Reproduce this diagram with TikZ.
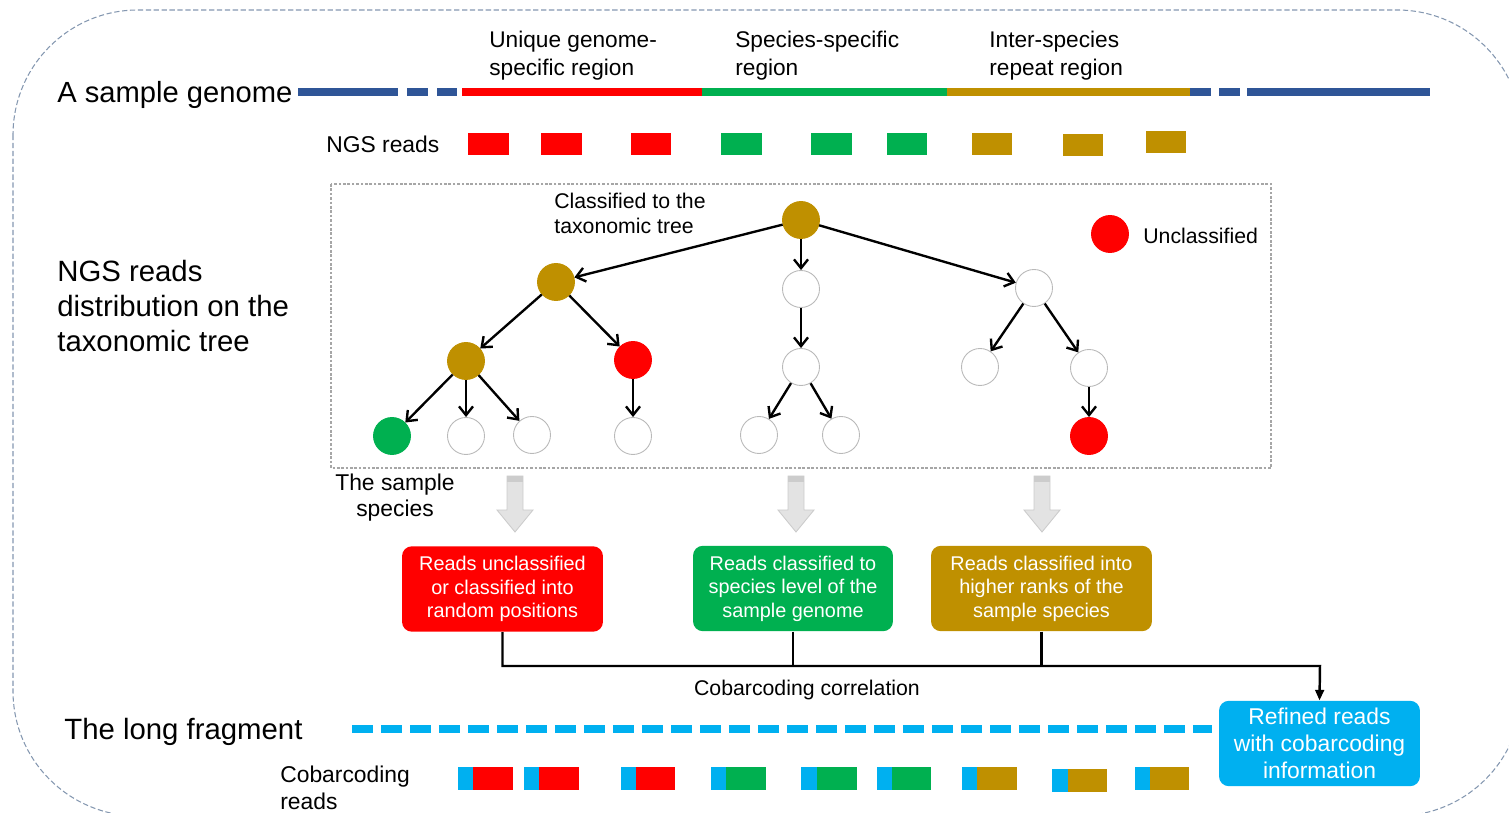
\documentclass[tikz,border=0pt]{standalone}
\usepackage{fontspec}
\setmainfont{Liberation Sans}
\usetikzlibrary{arrows.meta}

\definecolor{genomeblue}{HTML}{2F5597}
\definecolor{readred}{HTML}{FF0000}
\definecolor{readgreen}{HTML}{00B050}
\definecolor{readgold}{HTML}{BF9000}
\definecolor{barblue}{HTML}{00B0F0}
\definecolor{framegray}{HTML}{8497B0}

\begin{document}
\begin{tikzpicture}[x=0.02cm, y=-0.02cm,
  taxon/.style={circle, minimum size=0.74cm, inner sep=0pt, draw=gray!55, line width=0.5pt, fill=white},
  taxgold/.style={taxon, fill=readgold, draw=readgold},
  taxred/.style={taxon, fill=readred, draw=readred},
  taxgreen/.style={taxon, fill=readgreen, draw=readgreen},
  branch/.style={-{Straight Barb[length=5pt,width=8pt]}, line width=1.35pt},
  readbox/.style={rounded corners=0.2cm, text=white, align=center, minimum height=1.71cm, inner sep=0pt, font=\fontsize{11.3pt}{13.4pt}\selectfont},
  genome/.style={line width=4pt},
  bus/.style={line width=1.4pt},
  sortarrow/.style={fill=gray!22, draw=gray!40, line width=0.5pt},
  lbl/.style={inner sep=0pt, text=black}]

\useasboundingbox (0,0) rectangle (1509,813);
\clip (0,0) rectangle (1509,813);

%% frames
\draw[framegray, line width=0.6pt, dash pattern=on 3pt off 1.5pt, rounded corners=2.5cm] (13,10) rectangle (1522,816);
\draw[gray!70, line width=0.6pt, dash pattern=on 1.5pt off 1pt] (331,184) rectangle (1271,468);

%% genome
\node[lbl, anchor=base west, font=\fontsize{16.6pt}{19.9pt}\selectfont] (gen) at (57,103) {A sample genome};
\draw[genome, genomeblue] (298,92) -- (398,92);
\draw[genome, genomeblue] (407,92) -- (428,92);
\draw[genome, genomeblue] (437,92) -- (457,92);
\draw[genome, readred] (462,92) -- (702,92);     %% unique
\draw[genome, readgreen] (702,92) -- (947,92);   %% species
\draw[genome, readgold] (947,92) -- (1190,92);   %% repeat
\draw[genome, genomeblue] (1190,92) -- (1211,92);
\draw[genome, genomeblue] (1219,92) -- (1240,92);
\draw[genome, genomeblue] (1247,92) -- (1430,92);

%% region labels
\node[lbl, anchor=west, align=left, font=\fontsize{12.9pt}{15.9pt}\selectfont] (uniq) at (489,56) {Unique genome-\\specific region};
\node[lbl, anchor=west, align=left, font=\fontsize{12.9pt}{15.9pt}\selectfont] (spec) at (735,56) {Species-specific\\region};
\node[lbl, anchor=west, align=left, font=\fontsize{12.9pt}{15.9pt}\selectfont] (inter) at (989,56) {Inter-species\\repeat region};

%% NGS reads
\node[lbl, anchor=base west, font=\fontsize{13pt}{15.6pt}\selectfont] (ngs) at (326,153) {NGS reads};
\fill[readred] (468,133) rectangle (509,155);
\fill[readred] (541,133) rectangle (582,155);
\fill[readred] (631,133) rectangle (671,155);
\fill[readgreen] (721,133) rectangle (762,155);
\fill[readgreen] (811,133) rectangle (852,155);
\fill[readgreen] (887,133) rectangle (927,155);
\fill[readgold] (972,133) rectangle (1012,155);
\fill[readgold] (1063,134) rectangle (1103,156);
\fill[readgold] (1146,131) rectangle (1186,153);

%% tree labels
\node[lbl, anchor=west, align=left, font=\fontsize{16.7pt}{19.9pt}\selectfont] (distr) at (57,306) {NGS reads\\distribution on the\\taxonomic tree};
\node[lbl, anchor=west, align=left, font=\fontsize{12.1pt}{14.2pt}\selectfont] (clsf) at (554,213) {Classified to the\\taxonomic tree};
\node[taxred] (udot) at (1110,234) {};
\node[lbl, anchor=base west, font=\fontsize{12.1pt}{14.2pt}\selectfont] (ulbl) at (1143,244) {Unclassified};

%% taxa
\node[taxgold] (root) at (801,220) {};
\node[taxgold] (g1) at (556,282) {};
\node[taxon] (s1) at (801,289) {};
\node[taxon] (r1) at (1034,288) {};
\node[taxgold] (g2) at (466,361) {};
\node[taxred] (u2) at (633,360) {};
\node[taxon] (s2) at (801,367) {};
\node[taxon] (r2a) at (980,367) {};
\node[taxon] (r2b) at (1089,368) {};
\node[taxgreen] (sp) at (392,436) {};
\node[taxon] (g3b) at (466,436) {};
\node[taxon] (g3c) at (532,435) {};
\node[taxon] (u3) at (633,436) {};
\node[taxon] (s3a) at (759,435) {};
\node[taxon] (s3b) at (841,435) {};
\node[taxred] (r3) at (1089,436) {};

%% branches
\draw[branch] (root) -- (g1);
\draw[branch] (root) -- (s1);
\draw[branch] (root) -- (r1);
\draw[branch] (g1) -- (g2);
\draw[branch] (g1) -- (u2);
\draw[branch] (g2) -- (sp);
\draw[branch] (g2) -- (g3b);
\draw[branch] (g2) -- (g3c);
\draw[branch] (u2) -- (u3);
\draw[branch] (s1) -- (s2);
\draw[branch] (s2) -- (s3a);
\draw[branch] (s2) -- (s3b);
\draw[branch] (r1) -- (r2a);
\draw[branch] (r1) -- (r2b);
\draw[branch] (r2b) -- (r3);

\node[lbl, align=center, font=\fontsize{13pt}{14.8pt}\selectfont] (smpl) at (395,498) {The sample\\species};

%% sorting arrows
\draw[sortarrow] (507,476) -- ++(16,0) -- ++(0,34) -- ++(10,0) -- ++(-18,22) -- ++(-18,-22) -- ++(10,0) -- cycle;
\draw[sortarrow] (788,476) -- ++(16,0) -- ++(0,34) -- ++(10,0) -- ++(-18,22) -- ++(-18,-22) -- ++(10,0) -- cycle;
\draw[sortarrow] (1034,476) -- ++(16,0) -- ++(0,34) -- ++(10,0) -- ++(-18,22) -- ++(-18,-22) -- ++(10,0) -- cycle;
\fill[gray!40] (507,476) rectangle (523,482);
\fill[gray!40] (788,476) rectangle (804,482);
\fill[gray!40] (1034,476) rectangle (1050,482);

%% read classes
\node[readbox, fill=readred, minimum width=4.02cm] (unclsbox) at (502.5,589) {Reads unclassified\\or classified into\\random positions};
\node[readbox, fill=readgreen, minimum width=4cm] (specbox) at (793,588.5) {Reads classified to\\species level of the\\sample genome};
\node[readbox, fill=readgold, minimum width=4.42cm] (rankbox) at (1041.5,588.5) {Reads classified into\\higher ranks of the\\sample species};
\node[readbox, fill=barblue, minimum width=4.02cm, font=\fontsize{13pt}{15.4pt}\selectfont] (refbox) at (1319.5,743.5) {Refined reads\\with cobarcoding\\information};

%% cobarcoding correlation
\coordinate (busend) at (1320,666);
\draw[bus, -{Triangle[length=6pt,width=5pt]}] (unclsbox.south) |- (busend) -- (refbox.north);
\draw[bus] (specbox.south) -- (specbox.south |- busend);
\draw[bus] (rankbox.south) -- (rankbox.south |- busend);
\node[lbl, anchor=base, font=\fontsize{12.1pt}{14.2pt}\selectfont] (corr) at (807,696) {Cobarcoding correlation};

%% long fragment
\node[lbl, anchor=base west, font=\fontsize{16.7pt}{19.9pt}\selectfont] (frag) at (64,740) {The long fragment};
\draw[barblue, line width=4pt, dash pattern=on 0.42cm off 0.16cm] (352,729) -- (1212,729);

%% cobarcoding reads
\node[lbl, anchor=west, align=left, font=\fontsize{13pt}{15.4pt}\selectfont] (cobar) at (280,788) {Cobarcoding\\reads};
\fill[barblue] (458,767) rectangle (473,790);  \fill[readred] (473,767) rectangle (513,790);
\fill[barblue] (524,767) rectangle (539,790);  \fill[readred] (539,767) rectangle (579,790);
\fill[barblue] (621,767) rectangle (636,790);  \fill[readred] (636,767) rectangle (675,790);
\fill[barblue] (711,767) rectangle (726,790);  \fill[readgreen] (726,767) rectangle (766,790);
\fill[barblue] (801,767) rectangle (817,790);  \fill[readgreen] (817,767) rectangle (857,790);
\fill[barblue] (877,767) rectangle (892,790);  \fill[readgreen] (892,767) rectangle (931,790);
\fill[barblue] (962,767) rectangle (977,790);  \fill[readgold] (977,767) rectangle (1017,790);
\fill[barblue] (1052,769) rectangle (1068,792);  \fill[readgold] (1068,769) rectangle (1107,792);
\fill[barblue] (1135,767) rectangle (1150,790);  \fill[readgold] (1150,767) rectangle (1189,790);

\end{tikzpicture}
\end{document}
